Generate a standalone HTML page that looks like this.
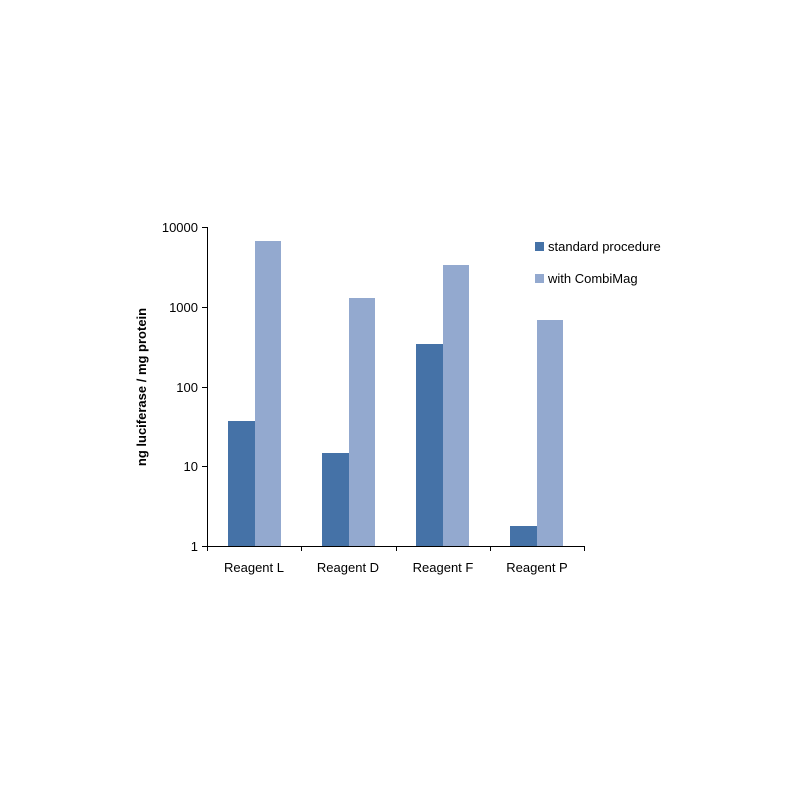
<!DOCTYPE html>
<html><head><style>body{margin:0;background:#fff}</style></head><body>
<svg width="800" height="800" xmlns="http://www.w3.org/2000/svg" font-family="Liberation Sans, sans-serif" font-size="13" fill="#000">
<rect width="800" height="800" fill="#fff"/>
<g fill="#4572a7">
<rect x="228" y="421" width="27" height="125"/>
<rect x="322" y="453" width="27" height="93"/>
<rect x="416" y="344" width="27" height="202"/>
<rect x="510" y="526" width="27" height="20"/>
</g>
<g fill="#93a9cf">
<rect x="255" y="241" width="26" height="305"/>
<rect x="349" y="298" width="26" height="248"/>
<rect x="443" y="265" width="26" height="281"/>
<rect x="537" y="320" width="26" height="226"/>
</g>
<g stroke="#000" stroke-width="1">
<line x1="207.5" y1="227" x2="207.5" y2="546"/>
<line x1="207" y1="546.5" x2="584" y2="546.5"/>
<line x1="202" y1="227.5" x2="207" y2="227.5"/>
<line x1="202" y1="307.5" x2="207" y2="307.5"/>
<line x1="202" y1="387.5" x2="207" y2="387.5"/>
<line x1="202" y1="466.5" x2="207" y2="466.5"/>
<line x1="202" y1="546.5" x2="207" y2="546.5"/>
<line x1="207.5" y1="546" x2="207.5" y2="551"/>
<line x1="301.5" y1="546" x2="301.5" y2="551"/>
<line x1="396.5" y1="546" x2="396.5" y2="551"/>
<line x1="490.5" y1="546" x2="490.5" y2="551"/>
<line x1="584.5" y1="546" x2="584.5" y2="551"/>
</g>
<g text-anchor="end">
<text x="198" y="232">10000</text>
<text x="198" y="312">1000</text>
<text x="198" y="392">100</text>
<text x="198" y="471">10</text>
<text x="198" y="551">1</text>
</g>
<g text-anchor="middle">
<text x="254" y="572">Reagent L</text>
<text x="348" y="572">Reagent D</text>
<text x="443" y="572">Reagent F</text>
<text x="537" y="572">Reagent P</text>
</g>
<text transform="translate(146,387) rotate(-90)" text-anchor="middle" font-weight="bold">ng luciferase / mg protein</text>
<rect x="535" y="242" width="9" height="9" fill="#4572a7"/>
<text x="548" y="251">standard procedure</text>
<rect x="535" y="274" width="9" height="9" fill="#93a9cf"/>
<text x="548" y="283">with CombiMag</text>
</svg>
</body></html>
